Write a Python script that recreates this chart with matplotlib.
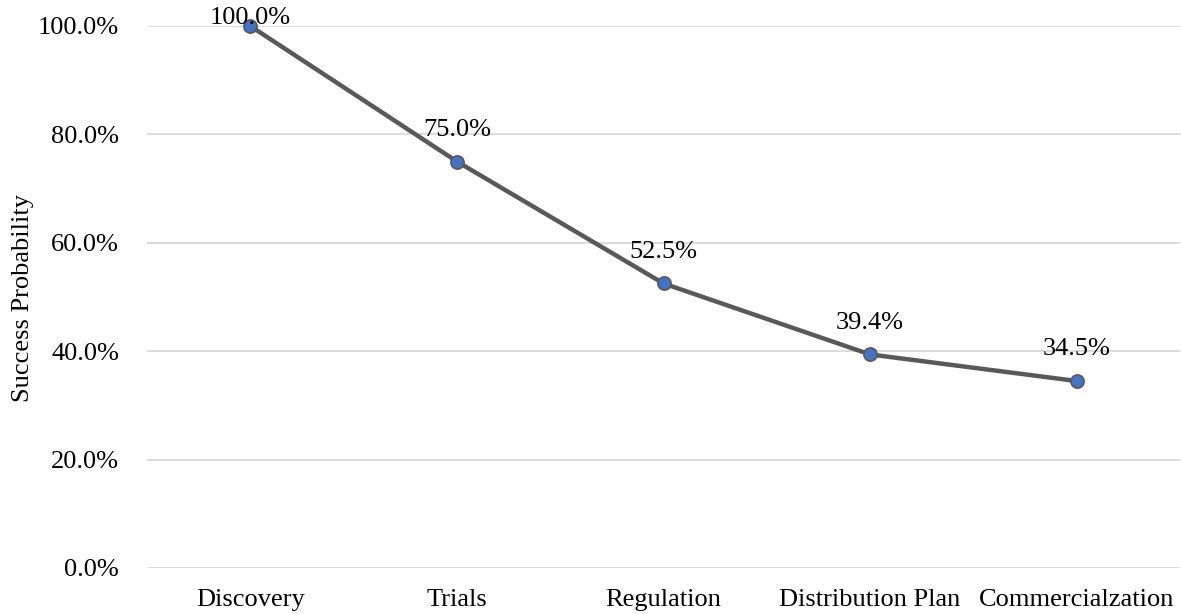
import matplotlib
matplotlib.use("Agg")
import matplotlib.pyplot as plt
from matplotlib.ticker import FuncFormatter

categories = ["Discovery", "Trials", "Regulation", "Distribution Plan", "Commercialzation"]
values = [1.000, 0.750, 0.525, 0.394, 0.345]
y_ticks = [0.0, 0.2, 0.4, 0.6, 0.8, 1.0]

plt.rcParams['font.family'] = ['Liberation Serif', 'DejaVu Serif']
FS = 19

fig = plt.figure(figsize=(11.81, 6.14), dpi=100)
ax = fig.add_axes([147/1181, 46/614, (1180-147)/1181, (568-26)/614])

x = list(range(len(categories)))
ax.plot(x, values, color='#595959', linewidth=3.2, marker='o', markersize=9.5,
        markerfacecolor='#4472C4', markeredgecolor='#595959', markeredgewidth=1.2,
        clip_on=False, zorder=3)

offsets = [6, 23, 23, 23, 23]
for xi, v, off in zip(x, values, offsets):
    ax.annotate(f"{v*100:.1f}%", (xi, v), xytext=(0, off), textcoords='offset points',
                ha='center', va='center', fontsize=FS, color='black', zorder=4,
                annotation_clip=False)

ax.set_xlim(-0.5, len(categories) - 0.5)
ax.set_ylim(0, 1.0)
ax.set_yticks(y_ticks)
ax.yaxis.set_major_formatter(FuncFormatter(lambda v, p: f"{v*100:.1f}%"))
ax.set_xticks(x)
ax.set_xticklabels(categories)
ax.tick_params(axis='both', length=0, labelsize=FS, colors='black')
ax.tick_params(axis='y', pad=20)
ax.tick_params(axis='x', pad=15)
ax.grid(axis='y', color='#D9D9D9', linewidth=1.3)
ax.set_axisbelow(True)
for s in ax.spines.values():
    s.set_visible(False)

ax.set_ylabel("Success Probability", fontsize=FS)
ax.yaxis.set_label_coords(-(147-34)/1033, (568-298)/542)

fig.savefig("out.png", dpi=100)
